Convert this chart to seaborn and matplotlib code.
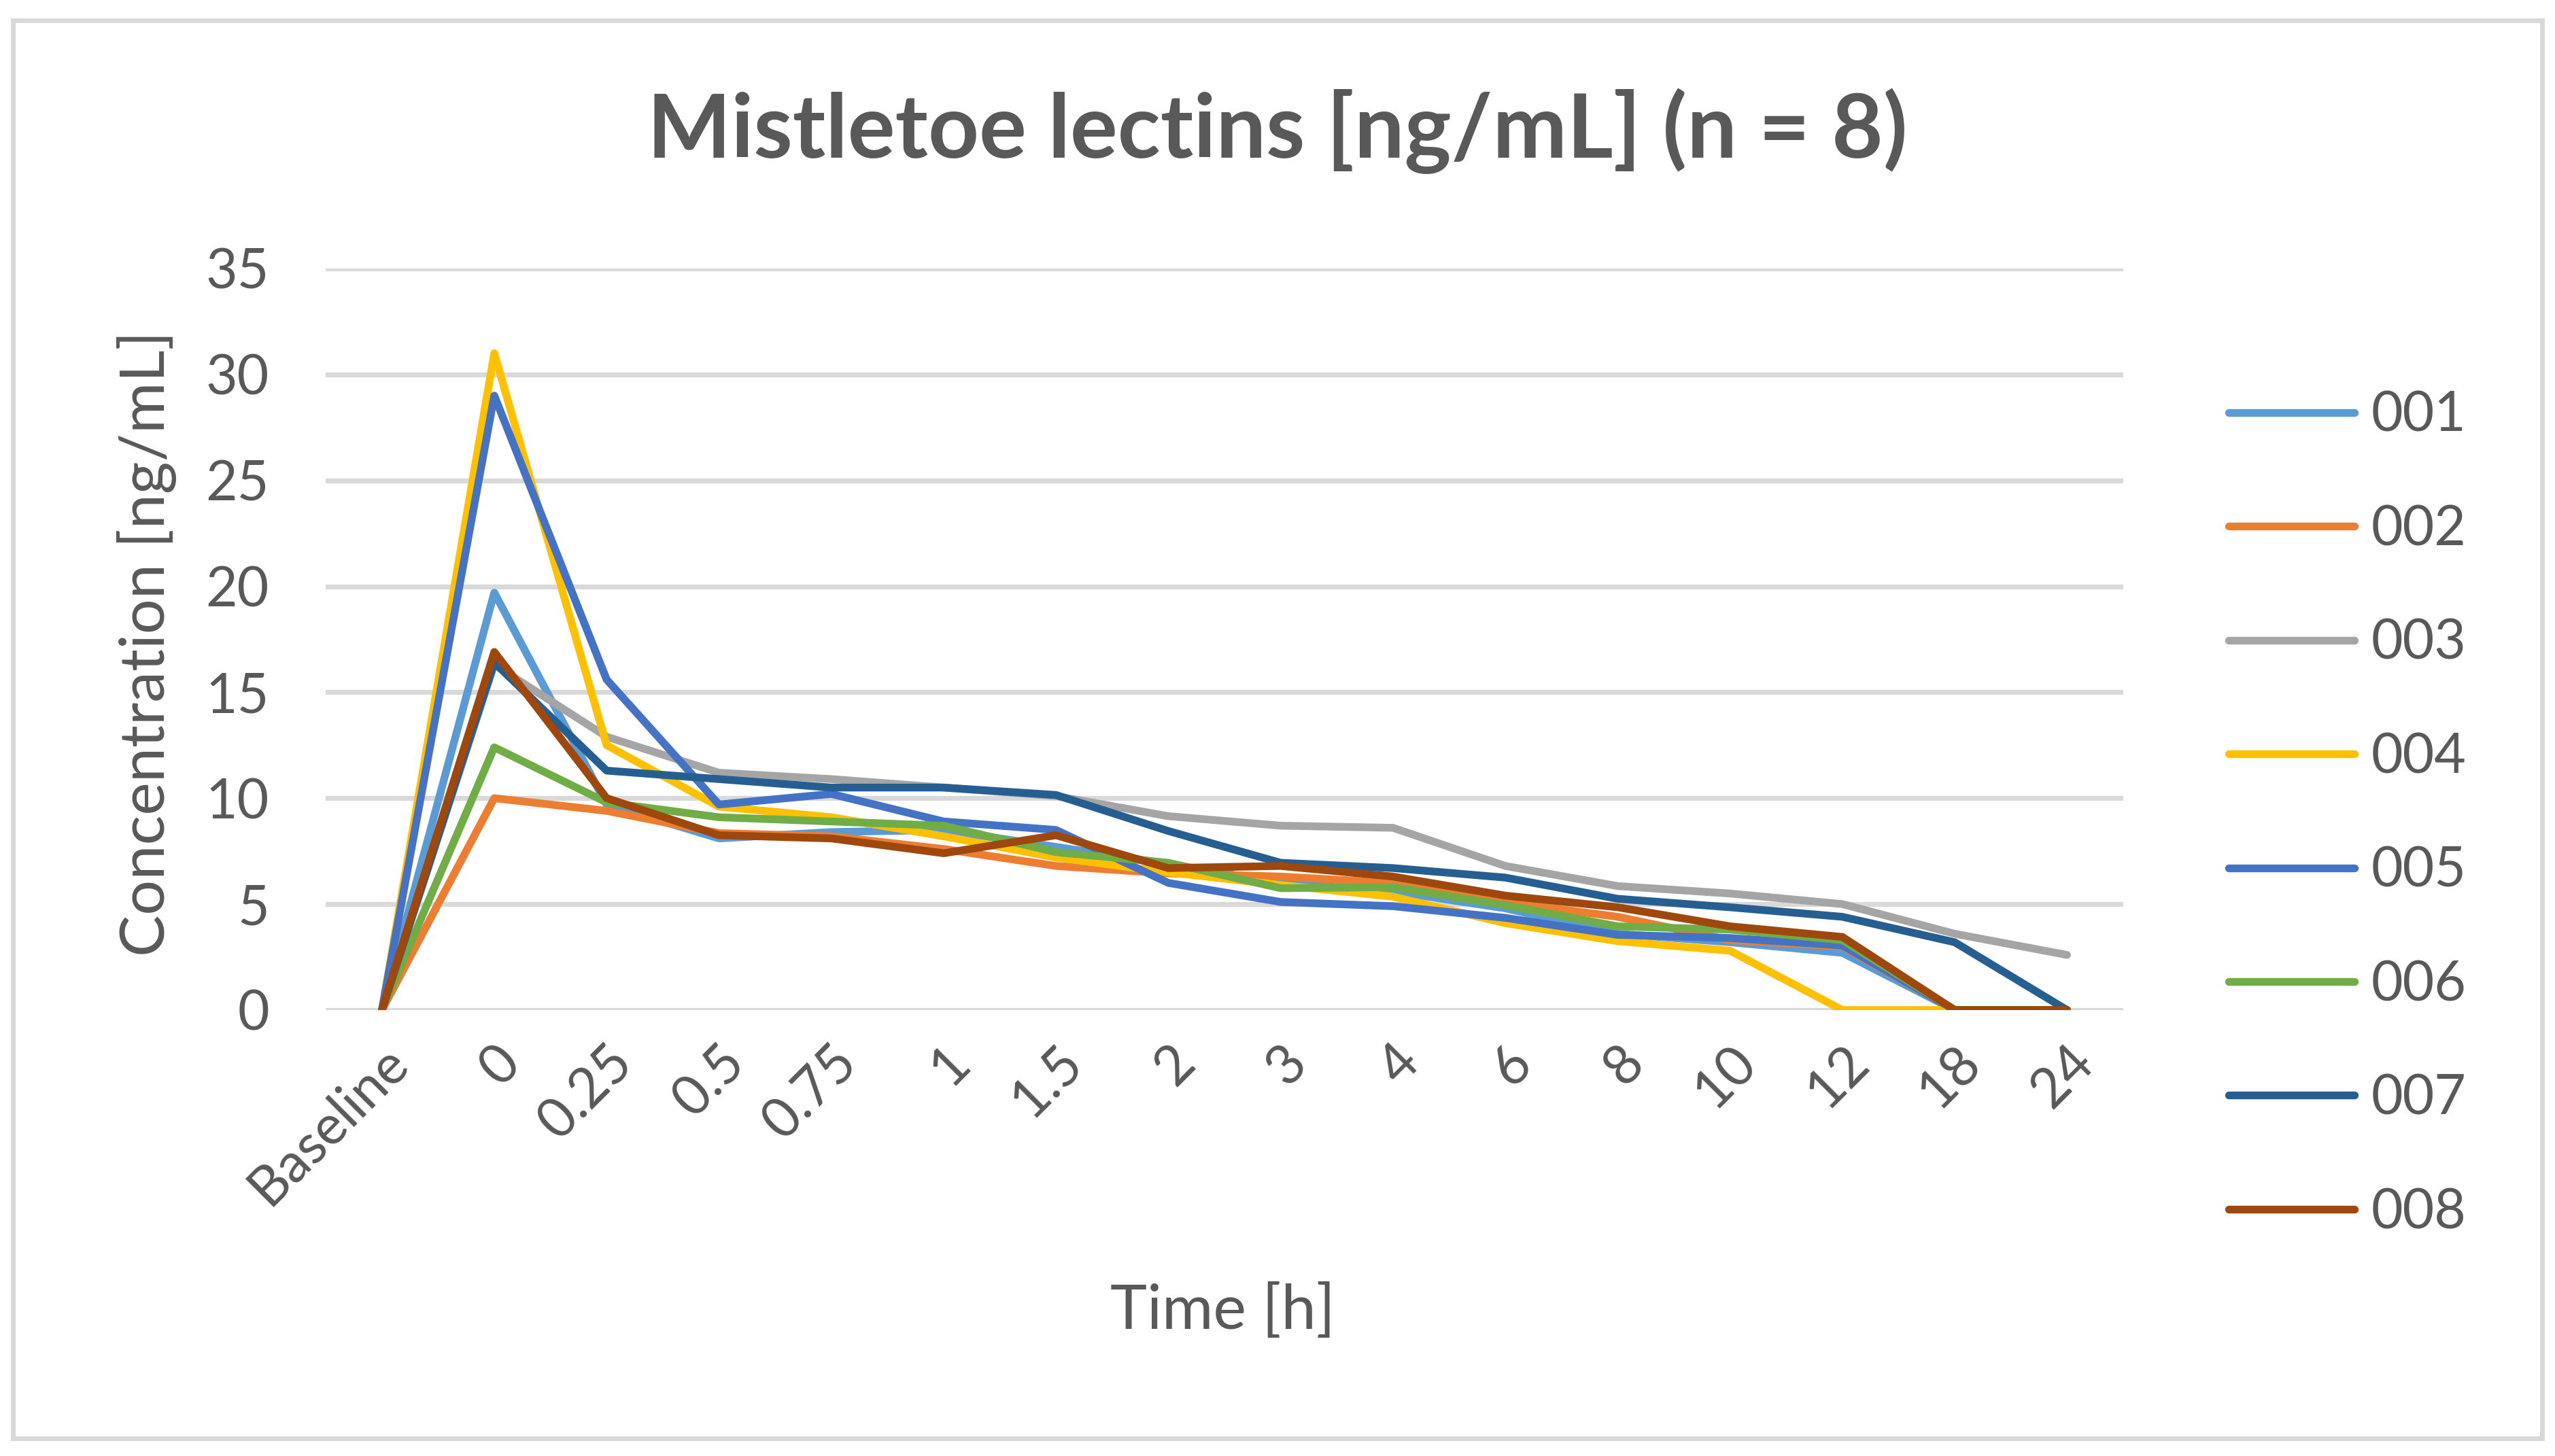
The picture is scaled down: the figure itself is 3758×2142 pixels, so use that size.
import pandas as pd
import matplotlib
matplotlib.use("Agg")
import matplotlib.pyplot as plt
from matplotlib.patches import Rectangle
import seaborn as sns

# time points (x categories)
times = ["Baseline", "0", "0.25", "0.5", "0.75", "1", "1.5", "2", "3", "4",
         "6", "8", "10", "12", "18", "24"]

# concentration per subject [ng/mL]
s001 = [0, 19.7, 9.7, 8.1, 8.4, 8.5, 7.7, 6.9, 6.0, 5.6, 4.8, 3.6, 3.2, 2.7, 0, 0]
s002 = [0, 10.0, 9.4, 8.35, 8.2, 7.6, 6.8, 6.45, 6.3, 6.0, 5.1, 4.4, 3.3, 3.0, 0, 0]
s003 = [0, 16.3, 12.9, 11.2, 10.9, 10.5, 10.1, 9.15, 8.7, 8.6, 6.8, 5.85, 5.5, 5.0, 3.6, 2.6]
s004 = [0, 31.0, 12.5, 9.6, 9.1, 8.2, 7.2, 6.5, 5.9, 5.35, 4.1, 3.25, 2.8, 0, 0, 0]
s005 = [0, 29.0, 15.6, 9.7, 10.2, 8.9, 8.5, 6.0, 5.1, 4.9, 4.35, 3.55, 3.4, 3.05, 0, 0]
s006 = [0, 12.4, 9.8, 9.1, 8.9, 8.7, 7.45, 6.95, 5.75, 5.8, 4.95, 3.95, 3.8, 3.3, 0, 0]
s007 = [0, 16.4, 11.3, 10.9, 10.5, 10.5, 10.15, 8.45, 6.95, 6.7, 6.25, 5.25, 4.85, 4.4, 3.2, 0]
s008 = [0, 16.9, 10.0, 8.25, 8.1, 7.4, 8.25, 6.7, 6.8, 6.3, 5.4, 4.85, 3.95, 3.45, 0, 0]

subjects = ["001", "002", "003", "004", "005", "006", "007", "008"]
colors = ["#5B9BD5", "#ED7D31", "#A5A5A5", "#FFC000",
          "#4472C4", "#70AD47", "#255E91", "#9E480E"]

series = [s001, s002, s003, s004, s005, s006, s007, s008]
rows = []
for subj, vals in zip(subjects, series):
    for t, v in zip(times, vals):
        rows.append({"Time": t, "Subject": subj, "Conc": v})
df = pd.DataFrame(rows)

sns.set_theme(style="white")
plt.rcParams["font.family"] = ["Lato", "DejaVu Sans"]
txt = "#595959"

fig = plt.figure(figsize=(18.79, 10.71), dpi=200)
ax = fig.add_axes([0.1275, 0.3063, 0.7035, 0.5093])

sns.lineplot(data=df, x="Time", y="Conc", hue="Subject", palette=colors,
             sort=False, linewidth=4.1, ax=ax)

ax.set_xlim(-0.5, len(times) - 0.5)
ax.set_ylim(0, 35)
ax.set_yticks(range(0, 36, 5))
ax.yaxis.grid(True, color="#D9D9D9", linewidth=2.6)
ax.xaxis.grid(False)
ax.set_axisbelow(True)
for sp in ax.spines.values():
    sp.set_visible(False)

ax.tick_params(axis="y", length=0, pad=30, labelsize=29, labelcolor=txt)
ax.tick_params(axis="x", length=0, pad=14, labelsize=29, labelcolor=txt)
for lab in ax.get_xticklabels():
    lab.set_rotation(45)
    lab.set_ha("right")
    lab.set_va("top")
    lab.set_rotation_mode("anchor")

ax.set_xlabel("")
ax.set_ylabel("")
fig.text(0.4785, 0.099, "Time [h]", ha="center", va="center",
         fontsize=33, color=txt)
fig.text(0.0575, 0.558, "Concentration [ng/mL]", ha="center", va="center",
         rotation=90, fontsize=33, color=txt)
fig.text(0.5, 0.91, "Mistletoe lectins [ng/mL] (n = 8)", ha="center",
         va="center", fontsize=47, fontweight="bold", color=txt)

sns.move_legend(ax, "center left", bbox_to_anchor=(0.8616, 0.4407),
                bbox_transform=fig.transFigure, title=None, frameon=False,
                fontsize=29, labelcolor=txt, borderpad=0, handlelength=2.3,
                handletextpad=0.3, labelspacing=1.16)

# light frame around the whole chart
fig.patches.append(Rectangle((0.005, 0.012), 0.99, 0.974,
                             transform=fig.transFigure, fill=False,
                             edgecolor="#D9D9D9", linewidth=2.5))

fig.savefig("out.png", dpi=200, facecolor="white")
